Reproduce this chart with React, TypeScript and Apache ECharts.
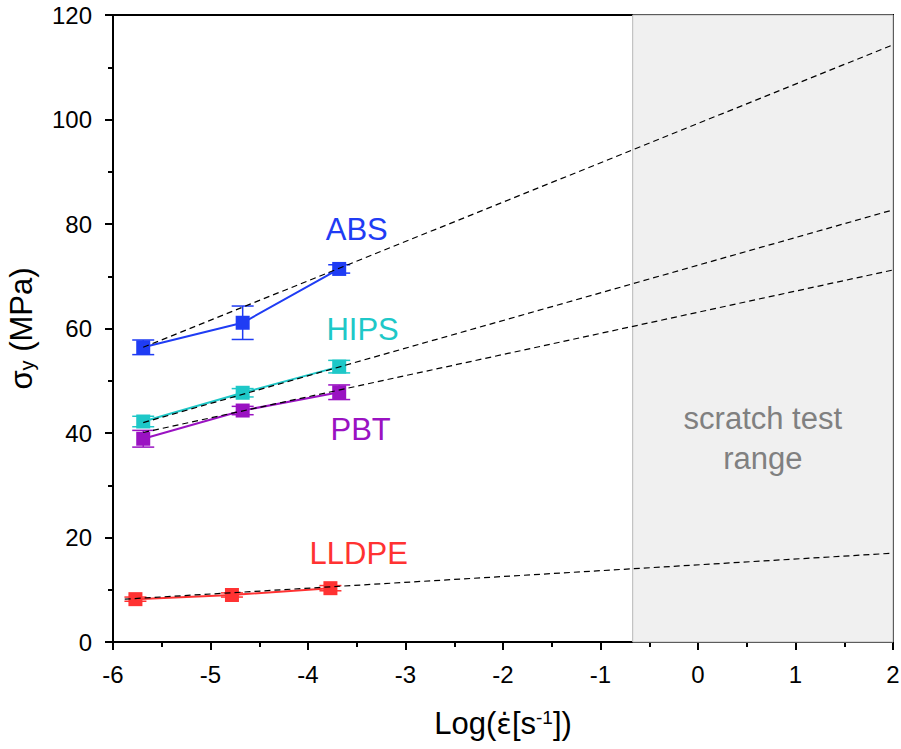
import React, { useEffect, useRef } from "react";
import * as echarts from "echarts";

// Strain-rate positions (log10 of strain rate) and yield stress values
const absX = [-5.69, -4.67, -3.68];
const absY = [56.4, 61.1, 71.4];
const absErr = [1.4, 3.2, 0.8];

const hipsX = [-5.69, -4.67, -3.68];
const hipsY = [42.2, 47.7, 52.7];
const hipsErr = [1.0, 0.8, 1.2];

const pbtX = [-5.69, -4.67, -3.68];
const pbtY = [38.9, 44.3, 47.8];
const pbtErr = [1.6, 0.8, 1.4];

const lldpeX = [-5.77, -4.78, -3.77];
const lldpeY = [8.2, 9.0, 10.3];
const lldpeErr = [0.4, 0.4, 0.5];

// Linear extrapolations (start and end points of each fit)
const absFit = [[-5.69, 56.4], [2, 114.3]];
const hipsFit = [[-5.69, 42.0], [2, 82.7]];
const pbtFit = [[-5.69, 40.1], [2, 71.2]];
const lldpeFit = [[-5.88, 8.2], [2, 17.0]];

// Scratch test strain-rate window
const scratchRange = [-0.67, 2];

// Material label anchors [x, y]
const labelNames = ["ABS", "HIPS", "PBT", "LLDPE"];
const labelPos = [[-3.5, 79.0], [-3.44, 59.9], [-3.46, 40.6], [-3.48, 17.0]];

const xTicks = { min: -6, max: 2, interval: 1 };
const yTicks = { min: 0, max: 120, interval: 20 };

const COLORS = {
  ABS: "#1f3cf4",
  HIPS: "#1ec8c8",
  PBT: "#9a12c2",
  LLDPE: "#ff3232",
};

const FONT = "'Liberation Sans', Arial, sans-serif";

function zip(xs: number[], ys: number[]) {
  return xs.map((x, i) => [x, ys[i]]);
}

function errData(xs: number[], ys: number[], es: number[]) {
  return xs.map((x, i) => [x, ys[i], es[i]]);
}

function makeMaterial(name: string, xs: number[], ys: number[], es: number[], fit: number[][]) {
  const color = (COLORS as any)[name];
  return [
    {
      name: name + "-line",
      type: "line",
      data: zip(xs, ys),
      symbol: "none",
      lineStyle: { color, width: 2 },
      z: 2,
    },
    {
      name: name + "-err",
      type: "custom",
      data: errData(xs, ys, es),
      z: 3,
      renderItem: (params: any, api: any) => {
        const x = api.value(0);
        const y = api.value(1);
        const e = api.value(2);
        const top = api.coord([x, y + e]);
        const bot = api.coord([x, y - e]);
        const half = 11;
        const st = { stroke: color, lineWidth: 1.5 };
        return {
          type: "group",
          children: [
            { type: "line", shape: { x1: top[0], y1: top[1], x2: bot[0], y2: bot[1] }, style: st },
            { type: "line", shape: { x1: top[0] - half, y1: top[1], x2: top[0] + half, y2: top[1] }, style: st },
            { type: "line", shape: { x1: bot[0] - half, y1: bot[1], x2: bot[0] + half, y2: bot[1] }, style: st },
          ],
        };
      },
    },
    {
      name: name + "-pts",
      type: "scatter",
      data: zip(xs, ys),
      symbol: "rect",
      symbolSize: 14,
      itemStyle: { color, opacity: 1 },
      z: 4,
    },
    {
      name: name + "-fit",
      type: "line",
      data: fit,
      symbol: "none",
      lineStyle: { color: "#000", width: 1.2, type: [6, 4] },
      z: 5,
    },
  ];
}

export default function App() {
  const ref = useRef<HTMLDivElement>(null);

  useEffect(() => {
    if (!ref.current) return;
    const chart = echarts.init(ref.current, null, { renderer: "svg" });

    const series: any[] = [
      {
        name: "scratch",
        type: "line",
        data: [],
        markArea: {
          silent: true,
          itemStyle: { color: "#f0f0f0", borderColor: "#b8b8b8", borderWidth: 1 },
          label: {
            show: true,
            position: "inside",
            offset: [0, 110],
            formatter: "scratch test\nrange",
            fontFamily: FONT,
            fontSize: 31,
            lineHeight: 40,
            color: "#808080",
          },
          data: [[{ xAxis: scratchRange[0], yAxis: yTicks.min }, { xAxis: scratchRange[1], yAxis: yTicks.max }]],
        },
        z: 1,
      },
      ...makeMaterial("ABS", absX, absY, absErr, absFit),
      ...makeMaterial("HIPS", hipsX, hipsY, hipsErr, hipsFit),
      ...makeMaterial("PBT", pbtX, pbtY, pbtErr, pbtFit),
      ...makeMaterial("LLDPE", lldpeX, lldpeY, lldpeErr, lldpeFit),
      {
        name: "labels",
        type: "scatter",
        symbolSize: 0,
        silent: true,
        z: 6,
        itemStyle: { opacity: 1 },
        data: labelNames.map((n, i) => ({
          value: labelPos[i],
          name: n,
          label: {
            show: true,
            position: "inside",
            formatter: n,
            fontFamily: FONT,
            fontSize: 31,
            color: (COLORS as any)[n],
          },
        })),
      },
    ];

    chart.setOption({
      animation: false,
      backgroundColor: "#fff",
      grid: {
        left: 113,
        right: 8,
        top: 15,
        bottom: 107,
        outerBoundsMode: "none",
        containLabel: false,
        show: true,
        borderColor: "#000",
        borderWidth: 2,
        backgroundColor: "transparent",
      },
      xAxis: {
        type: "value",
        min: xTicks.min,
        max: xTicks.max,
        interval: xTicks.interval,
        name: "{a|Log(}{e|ε\u0307}{a|[s}{sup|-1}{a|])}",
        nameLocation: "middle",
        nameGap: 66,
        nameTextStyle: {
          rich: {
            a: { fontFamily: FONT, fontSize: 31, color: "#000" },
            e: { fontFamily: "'DejaVu Sans', sans-serif", fontSize: 29, color: "#000" },
            sup: { fontFamily: FONT, fontSize: 19, color: "#000", verticalAlign: "top" },
          },
        },
        axisLine: { onZero: false, lineStyle: { color: "#000", width: 2 } },
        axisTick: { inside: false, length: 8, lineStyle: { color: "#000", width: 2 } },
        minorTick: { show: true, splitNumber: 2, length: 5, lineStyle: { color: "#000", width: 2 } },
        splitLine: { show: false },
        axisLabel: { fontFamily: FONT, fontSize: 24, color: "#000", margin: 20 },
      },
      yAxis: {
        type: "value",
        min: yTicks.min,
        max: yTicks.max,
        interval: yTicks.interval,
        name: "{a|σ}{sub|y}{a| (MPa)}",
        nameLocation: "middle",
        nameGap: 76,
        nameTextStyle: {
          rich: {
            a: { fontFamily: FONT, fontSize: 31, color: "#000" },
            sub: { fontFamily: FONT, fontSize: 20, color: "#000", verticalAlign: "bottom", padding: [12, 0, 0, 0] },
          },
        },
        axisLine: { onZero: false, lineStyle: { color: "#000", width: 2 } },
        axisTick: { inside: false, length: 8, lineStyle: { color: "#000", width: 2 } },
        minorTick: { show: true, splitNumber: 2, length: 5, lineStyle: { color: "#000", width: 2 } },
        splitLine: { show: false },
        axisLabel: { fontFamily: FONT, fontSize: 24, color: "#000", margin: 21 },
      },
      series,
    });

    return () => chart.dispose();
  }, []);

  return (
    <div
      ref={ref}
      style={{ position: "absolute", left: 0, top: 0, width: 901, height: 749 }}
    />
  );
}
